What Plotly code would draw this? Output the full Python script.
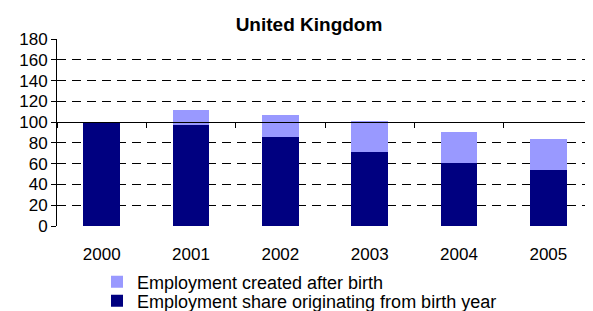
import plotly.graph_objects as go

years = ["2000", "2001", "2002", "2003", "2004", "2005"]
share_birth_year = [100, 97.2, 85.7, 71.2, 60.6, 53.9]
created_after_birth = [0, 14.4, 21.1, 29.8, 29.9, 29.8]

FONT = "Liberation Sans, Arial, sans-serif"
W, H = 585, 303  # page has an 8px body margin; figure fills the rest of the window

fig = go.Figure()
fig.add_trace(go.Bar(x=years, y=share_birth_year, name="Employment share originating from birth year",
                     marker=dict(color="#000080", line=dict(width=0)), legend="legend2"))
fig.add_trace(go.Bar(x=years, y=created_after_birth, name="Employment created after birth",
                     marker=dict(color="#9999FF", line=dict(width=0)), legend="legend"))
# helper trace so the crossing axis at 100 is drawn
fig.add_trace(go.Scatter(x=years, y=share_birth_year, xaxis="x2", mode="none",
                         showlegend=False, hoverinfo="skip"))

leg_common = dict(orientation="v", xref="container", yref="container", xanchor="left",
                  yanchor="middle", font=dict(family=FONT, size=18, color="black"),
                  bgcolor="rgba(0,0,0,0)", borderwidth=0, itemwidth=30)

fig.update_layout(
    width=W, height=H,
    margin=dict(l=49, r=0, t=31, b=85, autoexpand=False),
    paper_bgcolor="white", plot_bgcolor="white",
    barmode="stack", bargap=0.586,
    font=dict(family=FONT, size=17, color="black"),
    title=dict(text="<b>United Kingdom</b>", xref="container", x=301/W, xanchor="center",
               yref="container", y=1 - 16/H, yanchor="middle",
               font=dict(family=FONT, size=19, color="black")),
    xaxis=dict(type="category", range=[-0.5, 5.5], showline=False, showgrid=False, zeroline=False,
               ticks="outside", ticklen=13, tickcolor="rgba(0,0,0,0)",
               tickfont=dict(size=17)),
    xaxis2=dict(type="category", overlaying="x", anchor="free", position=100/180,
                range=[-0.5, 5.5], showline=True, linecolor="black", linewidth=1,
                ticks="outside", ticklen=5, tickcolor="black", tickson="boundaries",
                showticklabels=False, showgrid=False, zeroline=False),
    yaxis=dict(range=[0, 180], dtick=20, showline=True, linecolor="black", linewidth=1,
               ticks="outside", ticklen=5, tickcolor="black",
               showgrid=True, gridcolor="black", gridwidth=1, griddash="9px,6px",
               zeroline=False, tickfont=dict(size=17)),
    legend=dict(x=89/W, y=1 - 274/H, **leg_common),
    legend2=dict(x=89/W, y=1 - 293/H, **leg_common),
)

fig.write_html("out.html")
